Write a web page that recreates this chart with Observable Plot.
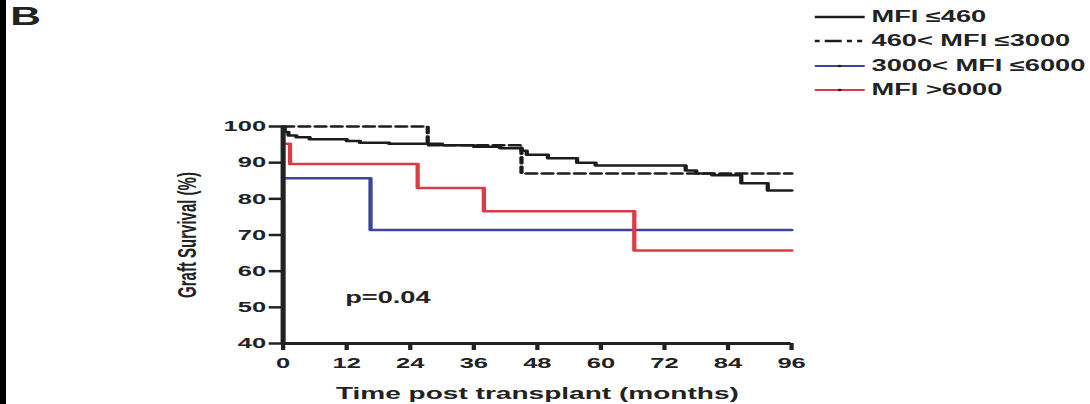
<!DOCTYPE html>
<html><head><meta charset="utf-8">
<script src="https://cdn.jsdelivr.net/npm/d3@7"></script>
<script src="https://cdn.jsdelivr.net/npm/@observablehq/plot@0.6"></script>
<style>
html,body{margin:0;padding:0;background:#fff;overflow:hidden;width:1090px;height:404px;}
#edge{position:absolute;left:0;top:0;width:6px;height:404px;background:#000;}
#stage{position:absolute;left:0;top:0;width:641px;height:404px;transform:scaleX(1.7005);transform-origin:0 0;font-family:"Liberation Sans",Arial,sans-serif;font-weight:bold;color:#222;}
#panel{position:absolute;left:6px;top:2px;font-size:25px;}
#legend{position:absolute;left:479px;top:5px;font-size:16px;}
.row{display:flex;align-items:center;height:24.3px;white-space:nowrap;}
.row svg{margin-right:4px;flex:none;}
#chart{position:absolute;left:0;top:0;}
#chart svg g[aria-label^="y-axis"] path, #chart svg g[aria-label^="y-axis"] line{stroke-width:2.5px;stroke:#222;}
#chart svg g[aria-label^="x-axis"] path, #chart svg g[aria-label^="x-axis"] line{stroke-width:2.5px;stroke:#222;}
</style></head><body>
<div id="edge"></div>
<div id="stage"><div id="panel">B</div><div id="legend"></div><div id="chart"></div></div>
<script>
// ---- data ----
const groups = ["MFI \u2264460", "460< MFI \u22643000", "3000< MFI \u22646000", "MFI >6000"];
const colors = ["#1c1c1c", "#1c1c1c", "#3d4499", "#dc3a44"];
const dashes = [null, "6,3.5", null, null];

const timesLow = [0, 0.3, 1.0, 2.5, 5, 12, 14.5, 20, 30, 36, 41, 45, 46, 50, 55.5, 59, 76, 78, 81, 86.5, 91.5, 96];
const survLow  = [100, 98.5, 97.5, 97.0, 96.5, 96.0, 95.5, 95.2, 94.8, 94.4, 94.0, 93.3, 92.2, 91.2, 90.0, 89.2, 87.8, 87.0, 86.5, 84.3, 82.3, 82.3];

const timesMid = [0, 27.3, 45, 96];
const survMid  = [100, 94.8, 87.0, 87.0];

const timesHigh = [0, 16.5, 96];
const survHigh  = [85.7, 71.4, 71.4];

const timesTop = [0, 1.3, 25.4, 37.9, 66.3, 96];
const survTop  = [95.2, 89.6, 83.0, 76.6, 65.7, 65.7];

const xTicks = [0, 12, 24, 36, 48, 60, 72, 84, 96];
const yTicks = [40, 50, 60, 70, 80, 90, 100];

const xLabel = "Time post transplant (months)";
const yLabel = "Graft Survival (%)";
const pLabel = "p=0.04";
const panelLabel = "B";

// ---- build ----
const seriesTimes = [timesLow, timesMid, timesHigh, timesTop];
const seriesSurv = [survLow, survMid, survHigh, survTop];
const series = groups.map((g, i) => ({
  group: g, color: colors[i], dash: dashes[i],
  rows: seriesTimes[i].map((t, j) => ({group: g, t, s: seriesSurv[i][j]}))
}));

document.getElementById("panel").textContent = panelLabel;

const plot = Plot.plot({
  width: 641, height: 404,
  marginLeft: 166, marginRight: 176, marginTop: 126, marginBottom: 61,
  style: {fontFamily: "'Liberation Sans', Arial, sans-serif", fontSize: "15px", fontWeight: "bold", color: "#222", background: "transparent", overflow: "visible"},
  x: {domain: [xTicks[0], xTicks[xTicks.length - 1]], ticks: xTicks, tickSize: 7, tickPadding: 7, label: null},
  y: {domain: [yTicks[0], yTicks[yTicks.length - 1]], ticks: yTicks, tickSize: 8, tickPadding: 2, label: null},
  marks: [
    ...series.map(sr => Plot.line(sr.rows, {x: "t", y: "s", curve: "step-after", stroke: sr.color, strokeWidth: 2.5, strokeDasharray: sr.dash})),
    Plot.ruleX([xTicks[0]], {stroke: "#222", strokeWidth: 3}),
    Plot.ruleY([yTicks[0]], {stroke: "#222", strokeWidth: 3}),
    Plot.text([pLabel], {text: d => d, frameAnchor: "left", textAnchor: "start", lineAnchor: "middle", dx: 36.5, dy: 62.5, fontSize: 16, fontWeight: "bold", fill: "#222"}),
    Plot.text([xLabel], {text: d => d, frameAnchor: "bottom", textAnchor: "middle", lineAnchor: "middle", dy: 50, fontSize: 16.5, fontWeight: "bold", fill: "#222"}),
    Plot.text([yLabel], {text: d => d, frameAnchor: "left", textAnchor: "middle", lineAnchor: "middle", rotate: -90, dx: -56, fontSize: 15, fontWeight: "bold", fill: "#222"})
  ]
});
document.getElementById("chart").appendChild(plot);

// ---- legend ----
const legend = document.getElementById("legend");
const ns = "http://www.w3.org/2000/svg";
series.forEach((sr, i) => {
  const row = document.createElement("div");
  row.className = "row";
  const svg = document.createElementNS(ns, "svg");
  svg.setAttribute("width", 29.5);
  svg.setAttribute("height", 10);
  const ln = document.createElementNS(ns, "line");
  ln.setAttribute("x1", 0); ln.setAttribute("x2", 29.5);
  ln.setAttribute("y1", 5); ln.setAttribute("y2", 5);
  ln.setAttribute("stroke", sr.color);
  ln.setAttribute("stroke-width", i >= 2 ? 1.8 : 2.5);
  if (sr.dash) ln.setAttribute("stroke-dasharray", "3,3,10,3,3,3,3");
  svg.appendChild(ln);
  if (i >= 2) {
    const c = document.createElementNS(ns, "circle");
    c.setAttribute("cx", 14.75); c.setAttribute("cy", 5); c.setAttribute("r", 1.2);
    c.setAttribute("fill", "#222");
    svg.appendChild(c);
  }
  row.appendChild(svg);
  const span = document.createElement("span");
  span.textContent = sr.group;
  row.appendChild(span);
  legend.appendChild(row);
});
</script>
</body></html>
